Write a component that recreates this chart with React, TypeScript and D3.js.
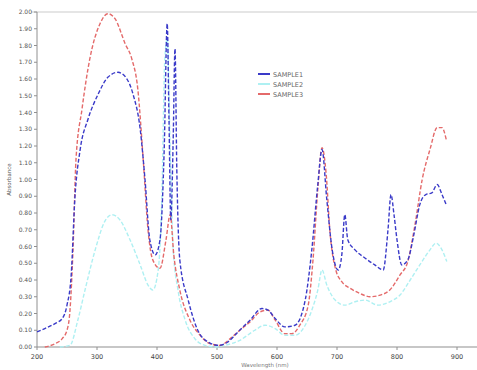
import React from "react";
import * as d3 from "d3";

// wavelength (nm) / absorbance pairs
const blueX = [200, 213, 230, 242, 250, 257, 263, 272, 285, 302, 318, 335, 348, 360, 372, 380, 388, 397, 405, 412, 417, 420, 423, 427, 430, 433, 438, 452, 468, 485, 502, 518, 535, 555, 575, 585, 597, 613, 630, 647, 658, 668, 675, 683, 692, 702, 708, 713, 718, 730, 747, 763, 777, 785, 790, 795, 800, 808, 818, 828, 838, 848, 858, 867, 875, 882];
const blueY = [0.09, 0.11, 0.14, 0.17, 0.25, 0.43, 0.88, 1.18, 1.36, 1.51, 1.61, 1.64, 1.61, 1.51, 1.3, 1.0, 0.64, 0.55, 0.64, 1.18, 1.93, 1.36, 0.76, 1.24, 1.78, 1.06, 0.52, 0.28, 0.1, 0.03, 0.01, 0.03, 0.09, 0.16, 0.23, 0.22, 0.17, 0.12, 0.13, 0.28, 0.58, 0.97, 1.18, 0.88, 0.58, 0.46, 0.55, 0.79, 0.64, 0.58, 0.53, 0.49, 0.46, 0.7, 0.91, 0.79, 0.64, 0.49, 0.52, 0.67, 0.85, 0.91, 0.92, 0.97, 0.91, 0.85];

const cyanX = [238, 255, 268, 280, 297, 313, 325, 338, 355, 372, 385, 393, 402, 408, 413, 417, 422, 427, 435, 447, 463, 480, 497, 513, 538, 563, 580, 597, 613, 630, 647, 658, 668, 675, 683, 697, 713, 730, 747, 768, 788, 805, 822, 838, 855, 865, 875, 883];
const cyanY = [0.0, 0.01, 0.16, 0.34, 0.58, 0.75, 0.79, 0.76, 0.64, 0.49, 0.37, 0.34, 0.46, 0.88, 1.72, 1.84, 1.18, 0.58, 0.34, 0.16, 0.05, 0.01, 0.0, 0.01, 0.04, 0.1, 0.13, 0.11, 0.07, 0.07, 0.13, 0.22, 0.34, 0.46, 0.37, 0.28, 0.25, 0.27, 0.28, 0.25, 0.27, 0.31, 0.4, 0.49, 0.58, 0.62, 0.58, 0.51];

const redX = [213, 230, 242, 250, 255, 260, 265, 275, 288, 305, 318, 330, 347, 358, 368, 377, 385, 393, 405, 415, 422, 428, 438, 455, 472, 488, 505, 522, 538, 555, 572, 585, 597, 613, 625, 638, 652, 660, 668, 675, 682, 688, 698, 708, 722, 738, 755, 772, 788, 805, 818, 830, 842, 855, 867, 875, 882];
const redY = [0.0, 0.02, 0.05, 0.1, 0.22, 0.58, 1.12, 1.42, 1.72, 1.93, 1.99, 1.96, 1.81, 1.72, 1.54, 1.12, 0.7, 0.52, 0.47, 0.64, 0.79, 0.55, 0.34, 0.16, 0.07, 0.02, 0.01, 0.05, 0.1, 0.15, 0.21, 0.22, 0.16, 0.08, 0.08, 0.13, 0.25, 0.52, 0.94, 1.19, 1.03, 0.7, 0.46, 0.39, 0.35, 0.32, 0.3, 0.31, 0.34, 0.43, 0.51, 0.73, 1.0, 1.18, 1.31, 1.31, 1.24];

const seriesNames = ["SAMPLE1", "SAMPLE2", "SAMPLE3"];
const seriesColors = ["#3a3ac8", "#aef0f2", "#e46a6a"];
const xTicks = [200, 300, 400, 500, 600, 700, 800, 900];
const yTicks = d3.range(0, 2.001, 0.1);

const W = 477;
const H = 370;
const margin = { top: 12, right: 2, bottom: 23, left: 37 };

export default function App() {
  const x = d3.scaleLinear().domain([200, 930]).range([margin.left, W - margin.right]);
  const y = d3.scaleLinear().domain([0, 2]).range([H - margin.bottom, margin.top]);

  const line = d3
    .line<[number, number]>()
    .curve(d3.curveMonotoneX)
    .x((d) => x(d[0]))
    .y((d) => y(d[1]));

  const series = [
    { xs: cyanX, ys: cyanY, color: seriesColors[1] },
    { xs: redX, ys: redY, color: seriesColors[2] },
    { xs: blueX, ys: blueY, color: seriesColors[0] },
  ];

  const bottom = H - margin.bottom;

  return (
    <svg
      width={W}
      height={H}
      style={{ position: "absolute", left: 0, top: 0, background: "#fff" }}
      fontFamily="DejaVu Sans, sans-serif"
    >
      {/* frame */}
      <line x1={margin.left - 6} x2={W} y1={margin.top} y2={margin.top} stroke="#dcdcdc" strokeWidth={1.5} />
      <line x1={margin.left} x2={margin.left} y1={margin.top} y2={bottom} stroke="#909090" />
      <line x1={margin.left} x2={W} y1={bottom} y2={bottom} stroke="#909090" strokeWidth={1.2} />

      {yTicks.map((t, i) => (
        <g key={i}>
          <line x1={margin.left - 3} x2={margin.left} y1={y(t)} y2={y(t)} stroke="#909090" />
          <text x={margin.left - 5} y={y(t) + 2} fontSize={6} textAnchor="end" fill="#555">
            {t.toFixed(2)}
          </text>
        </g>
      ))}
      {xTicks.map((t) => (
        <g key={t}>
          <line x1={x(t)} x2={x(t)} y1={bottom} y2={bottom + 3} stroke="#909090" />
          <text x={x(t)} y={bottom + 12} fontSize={6.5} textAnchor="middle" fill="#444">
            {t}
          </text>
        </g>
      ))}
      <text x={265} y={H - 3} fontSize={5.5} textAnchor="middle" fill="#777">
        Wavelength (nm)
      </text>
      <text
        transform={`translate(11, ${(margin.top + bottom) / 2}) rotate(-90)`}
        fontSize={5.5}
        textAnchor="middle"
        fill="#555"
      >
        Absorbance
      </text>

      {series.map((s, i) => (
        <path
          key={i}
          d={line(s.xs.map((v, j) => [v, s.ys[j]] as [number, number])) || ""}
          fill="none"
          stroke={s.color}
          strokeWidth={1.4}
          strokeDasharray="4,2"
        />
      ))}

      {/* legend */}
      {seriesNames.map((n, i) => (
        <g key={n} transform={`translate(258, ${74 + i * 10})`}>
          <line x1={0} x2={12} y1={0} y2={0} stroke={seriesColors[i]} strokeWidth={2} />
          <text x={15} y={2.5} fontSize={6.5} fill="#666">
            {n}
          </text>
        </g>
      ))}
    </svg>
  );
}
